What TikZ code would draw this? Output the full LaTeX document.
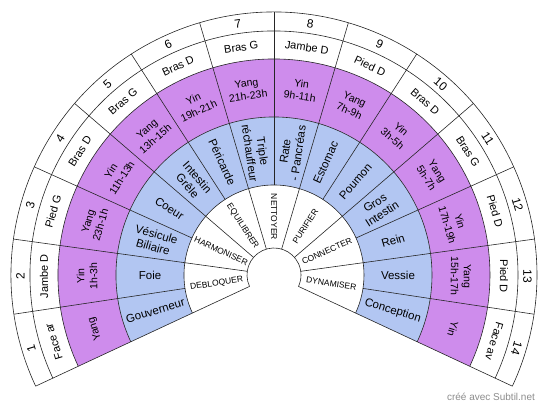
\documentclass[tikz,border=0pt]{standalone}
\usepackage{fontspec}
\setmainfont{Liberation Sans}
\usepackage{xcolor}
\definecolor{meridien}{RGB}{206,140,236}
\definecolor{organe}{RGB}{178,198,242}
\tikzset{
  fan line/.style = {line width=0.6pt, draw=black!85},
  num text/.style = {inner sep=0pt, font=\fontsize{12}{12}\selectfont},
  part text/.style = {inner sep=0pt, font=\fontsize{11}{11}\selectfont},
  hour text/.style = {inner sep=0pt, align=center, font=\fontsize{10.5}{13}\selectfont},
  organ text/.style = {inner sep=0pt, align=center, font=\fontsize{11.5}{13}\selectfont},
  act text/.style = {inner sep=0pt, font=\fontsize{8.5}{8.5}\selectfont},
  credit text/.style = {inner sep=0pt, text=black!45, font=\fontsize{10}{10}\selectfont}
}

\begin{document}
\begin{tikzpicture}[x=1pt,y=1pt]
  \useasboundingbox (-274,-133) rectangle (276,275);
  \def\w{230/14}

  % colored rings
  \fill[meridien] (205:216) arc (205:-25:216) -- (-25:158) arc (-25:205:158) -- cycle;
  \fill[organe] (205:158) arc (205:-25:158) -- (-25:90) arc (-25:205:90) -- cycle;

  % ring borders
  \foreach \r in {27,90,158,216,244,263}
    \draw[fan line] (205:\r) arc (205:-25:\r);

  % sector borders
  \foreach \k in {0,...,14}
    \draw[fan line] ({205-\k*\w}:90) -- ({205-\k*\w}:263);
  \foreach \k in {0,2,...,14}
    \draw[fan line] ({205-\k*\w}:27) -- ({205-\k*\w}:90);

  % numbers
  \foreach \k in {1,...,14} {
    \pgfmathsetmacro\a{205-(\k-0.5)*\w}
    \node[num text, rotate=\a-90] (num\k) at (\a:253.5) {\k};
  }

  % body parts
  \foreach \t [count=\k] in {Face ar, Jambe D, Pied G, Bras D, Bras G, Bras D, Bras G,
      Jambe D, Pied D, Bras D, Bras G, Pied D, Pied D, Face av} {
    \pgfmathsetmacro\a{205-(\k-0.5)*\w}
    \node[part text, rotate=\a-90] (part\k) at (\a:230) {\t};
  }

  % yin / yang hours
  \foreach \t [count=\k] in {Yang, {Yin\\1h-3h}, {Yang\\23h-1h}, {Yin\\11h-13h},
      {Yang\\13h-15h}, {Yin\\19h-21h}, {Yang\\21h-23h}, {Yin\\9h-11h}, {Yang\\7h-9h},
      {Yin\\3h-5h}, {Yang\\5h-7h}, {Yin\\17h-19h}, {Yang\\15h-17h}, Yin} {
    \pgfmathsetmacro\a{205-(\k-0.5)*\w}
    \node[hour text, rotate=\a-90] (hour\k) at (\a:187) {\t};
  }

  % organs
  \foreach \t [count=\k] in {Gouverneur, Foie, {V\'esicule\\Biliaire}, Coeur,
      {Intestin\\Gr\^ele}, P\'ericarde, {Triple\\r\'echauffeur}, {Rate\\- Pancr\'eas},
      Estomac, Poumon, {Gros\\Intestin}, Rein, Vessie, Conception} {
    \pgfmathsetmacro\a{205-(\k-0.5)*\w}
    \pgfmathsetmacro\rot{\a>=89.9 ? \a-180 : \a}
    \node[organ text, rotate=\rot] (organ\k) at (\a:124) {\t};
  }

  % actions
  \foreach \t [count=\k] in {DEBLOQUER, HARMONISER, EQUILIBRER, NETTOYER,
      PURIFIER, CONNECTER, DYNAMISER} {
    \pgfmathsetmacro\a{205-(2*\k-1)*\w}
    \pgfmathsetmacro\rot{\a>=89.9 ? \a-180 : \a}
    \node[act text, rotate=\rot] (act\k) at (\a:58) {\t};
  }

  \node[credit text] (credit) at (217,-122) {cr\'e\'e avec Subtil.net};
\end{tikzpicture}
\end{document}
